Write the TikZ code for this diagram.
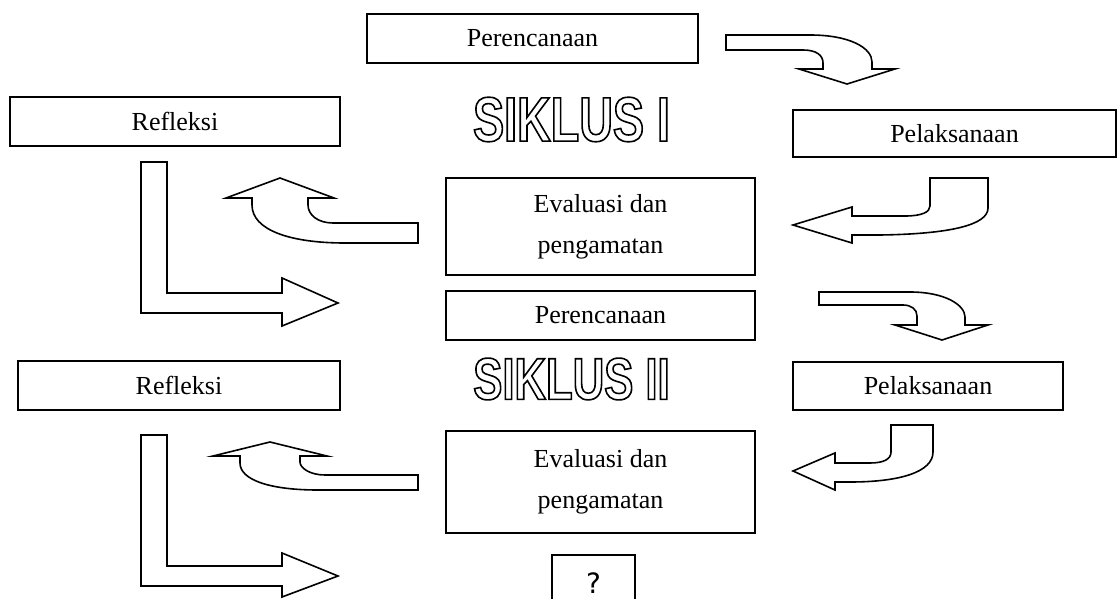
\documentclass[tikz,border=0pt]{standalone}
\usepackage{fontspec}
\setmainfont{Liberation Serif}
\newfontfamily\siklusfont[FakeStretch=0.74]{Liberation Sans Bold}
\newfontfamily\qfont{DejaVu Sans}
\newcommand{\outlinetext}[1]{\special{pdf:literal direct 1 Tr 0.8 w}#1\special{pdf:literal direct 0 Tr}}
\begin{document}
\begin{tikzpicture}[x=0.5pt,y=-0.5pt,
  box/.style={draw=black,line width=0.8pt,fill=white,inner sep=0pt,
    font=\fontsize{13}{20.5}\selectfont,align=center},
  blockarrow/.style={draw=black,line width=0.8pt,fill=white,line join=miter},
  siklus/.style={inner sep=0pt}]
\useasboundingbox (0,0) rectangle (1118,599);
\clip (0,0) rectangle (1118,599);
% boxes
\node[box,minimum width=165.5pt,minimum height=24.5pt] (per1) at (532.5,38.5) {Perencanaan};
\node[box,minimum width=165pt,minimum height=24.5pt] (ref1) at (175,121.5) {Refleksi};
\node[box,minimum width=161.5pt,minimum height=23.5pt] (pel1) at (954.5,133.5) {Pelaksanaan};
\node[box,minimum width=154.5pt,minimum height=48.5pt] (eva1) at (600.5,226.5) {Evaluasi dan\\pengamatan};
\node[box,minimum width=154.5pt,minimum height=24.5pt] (per2) at (600.5,315.5) {Perencanaan};
\node[box,minimum width=161pt,minimum height=24.5pt] (ref2) at (179,385.5) {Refleksi};
\node[box,minimum width=135pt,minimum height=24pt] (pel2) at (928,386) {Pelaksanaan};
\node[box,minimum width=154.5pt,minimum height=51pt] (eva2) at (600.5,482) {Evaluasi dan\\pengamatan};
\node[box,minimum width=41.5pt,minimum height=28pt,font=\qfont\fontsize{14}{16}\selectfont] (q) at (593.5,583) {?};
% titles
\node[siklus,font=\siklusfont\fontsize{31.5}{34}\selectfont] (s1) at (571.5,119.5) {\outlinetext{SIKLUS I}};
\node[siklus,font=\siklusfont\fontsize{29.5}{32}\selectfont] (s2) at (571.5,379) {\outlinetext{SIKLUS II}};
% cycle I arrows
\draw[blockarrow] (726,35) -- (810,35) .. controls (850,35) and (872,48) .. (872,62) -- (872,69) -- (895,69) -- (847,84) -- (799,69) -- (823,69) -- (823,63) .. controls (823,55) and (816,50) .. (803,50) -- (726,50) -- cycle;
\draw[blockarrow] (930,178) -- (988,178) -- (988,208) .. controls (988,225) and (950,234) .. (880,235) -- (852,235) -- (852,243) -- (793,225) -- (852,207) -- (852,216) -- (905,216) .. controls (922,216) and (930,212) .. (930,206) -- cycle;
\draw[blockarrow] (418,223) -- (333,223) .. controls (318,223) and (308,215) .. (308,205) -- (308,198) -- (334,198) -- (280,178) -- (226,198) -- (252,198) -- (252,205) .. controls (252,230) and (290,243) .. (345,243) -- (418,243) -- cycle;
\draw[blockarrow] (141,162) -- (167,162) -- (167,293) -- (282,293) -- (282,278) -- (338,303) -- (282,326) -- (282,313) -- (141,313) -- cycle;
% cycle II arrows
\draw[blockarrow] (819,292) -- (910,292) .. controls (945,292) and (965,305) .. (965,317) -- (965,325) -- (988,325) -- (942,340) -- (895,325) -- (917,325) -- (917,316) .. controls (917,309) and (911,305) .. (903,305) -- (819,305) -- cycle;
\draw[blockarrow] (891,425) -- (933,425) -- (933,452) .. controls (933,472) and (900,482) .. (850,482) -- (835,482) -- (835,490) -- (793,471) -- (835,453) -- (835,463) -- (870,463) .. controls (884,463) and (891,459) .. (891,452) -- cycle;
\draw[blockarrow] (418,475) -- (325,475) .. controls (310,475) and (300,468) .. (300,462) -- (300,456) -- (327,456) -- (270,442) -- (213,456) -- (240,456) -- (240,463) .. controls (240,480) and (270,490) .. (318,490) -- (418,490) -- cycle;
\draw[blockarrow] (141,435) -- (167,435) -- (167,566) -- (282,566) -- (282,553) -- (338,576) -- (282,597) -- (282,586) -- (141,586) -- cycle;
\end{tikzpicture}
\end{document}
